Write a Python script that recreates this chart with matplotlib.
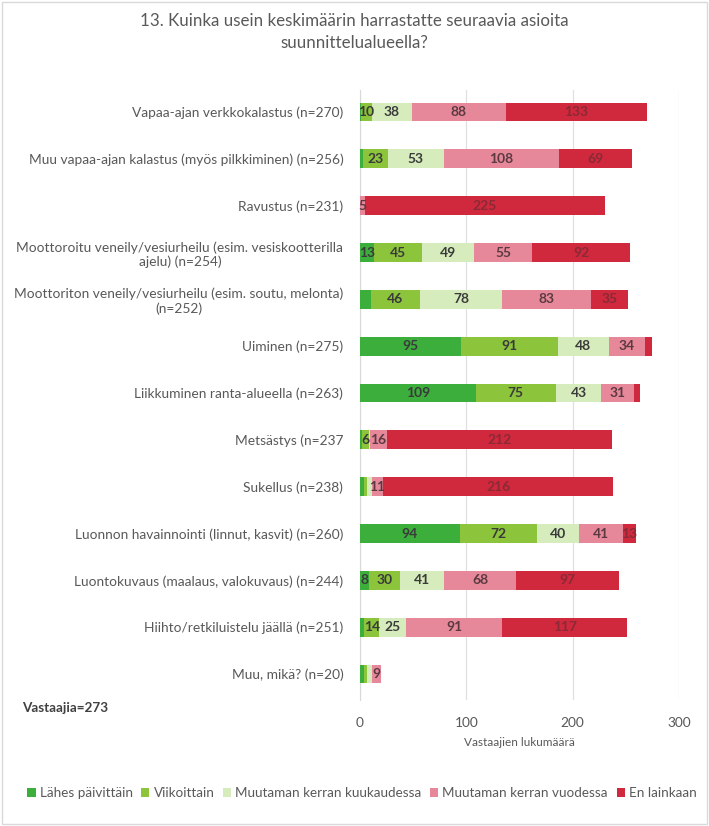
import matplotlib
matplotlib.use("Agg")
import matplotlib.pyplot as plt
from matplotlib.patches import Rectangle

plt.rcParams["font.family"] = ["Lato", "DejaVu Sans"]

# Kysymys 13: harrastusten useus suunnittelualueella
categories = [
    "Vapaa-ajan verkkokalastus (n=270)",
    "Muu vapaa-ajan kalastus (myös pilkkiminen) (n=256)",
    "Ravustus (n=231)",
    "Moottoroitu veneily/vesiurheilu (esim. vesiskootterilla\najelu) (n=254)",
    "Moottoriton veneily/vesiurheilu (esim. soutu, melonta)\n(n=252)",
    "Uiminen (n=275)",
    "Liikkuminen ranta-alueella (n=263)",
    "Metsästys (n=237",
    "Sukellus (n=238)",
    "Luonnon havainnointi (linnut, kasvit) (n=260)",
    "Luontokuvaus (maalaus, valokuvaus) (n=244)",
    "Hiihto/retkiluistelu jäällä (n=251)",
    "Muu, mikä? (n=20)",
]
series_names = ["Lähes päivittäin", "Viikoittain", "Muutaman kerran kuukaudessa",
                "Muutaman kerran vuodessa", "En lainkaan"]

lahes_paivittain = [1, 3, 0, 13, 10, 95, 109, 2, 4, 94, 8, 4, 4]
viikoittain = [10, 23, 0, 45, 46, 91, 75, 6, 3, 72, 30, 14, 3]
kuukaudessa = [38, 53, 0, 49, 78, 48, 43, 1, 4, 40, 41, 25, 4]
vuodessa = [88, 108, 5, 55, 83, 34, 31, 16, 11, 41, 68, 91, 9]
en_lainkaan = [133, 69, 225, 92, 35, 7, 5, 212, 216, 13, 97, 117, 0]

series = [lahes_paivittain, viikoittain, kuukaudessa, vuodessa, en_lainkaan]
colors = ["#3cae3c", "#8cc43c", "#d6ecbc", "#e6889a", "#d0283c"]
label_colors = ["#3a3a3a", "#3a3a3a", "#3a3a3a", "#5a3a40", "#8a2a36"]
# arvot, joita ei ole merkitty kuvaan
hidden = {(4, 0), (5, 4), (6, 4)}

GREY = "#595959"

fig = plt.figure(figsize=(7.09, 8.26), dpi=100)
fig.patches.append(Rectangle((0.003, 0.003), 0.994, 0.994, transform=fig.transFigure,
                             fill=False, edgecolor="#d9d9d9", lw=1))

ax = fig.add_axes([360 / 709, 1 - 700 / 826, 319 / 709, 610 / 826])

ypos = list(range(len(categories)))
left = [0] * len(categories)
for si, (vals, col) in enumerate(zip(series, colors)):
    ax.barh(ypos, vals, left=left, height=0.4, color=col, label=series_names[si],
            zorder=3)
    for ri, v in enumerate(vals):
        if v >= 5 and (ri, si) not in hidden:
            ax.text(left[ri] + v / 2, ri, str(v), ha="center", va="center",
                    fontsize=10, fontweight="bold", color=label_colors[si], zorder=4)
    left = [a + b for a, b in zip(left, vals)]

ax.set_xlim(0, 300)
ax.set_ylim(12.555, -0.47)
ax.set_xticks([0, 100, 200, 300])
ax.set_yticks(ypos)
ax.set_yticklabels(categories, multialignment="center")
ax.tick_params(axis="y", length=0, pad=12, labelsize=9.9, labelcolor=GREY)
ax.tick_params(axis="x", length=0, pad=12, labelsize=9.9, labelcolor=GREY)
ax.grid(axis="x", color="#e0e0e0", lw=0.9, zorder=0)
for s in ["top", "right", "bottom"]:
    ax.spines[s].set_visible(False)
ax.spines["left"].set_color("#d9d9d9")
ax.set_xlabel("Vastaajien lukumäärä", fontsize=8.5, color=GREY, labelpad=6)

fig.text(0.5, 1 - 32 / 826, "13. Kuinka usein keskimäärin harrastatte seuraavia asioita\nsuunnittelualueella?",
         ha="center", va="center", fontsize=12.2, color=GREY, linespacing=1.4)
fig.text(22 / 709, 1 - 708 / 826, "Vastaajia=273", ha="left", va="center",
         fontsize=9.7, fontweight="bold", color="#404040")

fig.legend(loc="center", bbox_to_anchor=(362 / 709, 1 - 793 / 826), ncol=5,
           frameon=False, fontsize=9.7, handlelength=0.6, handleheight=0.6,
           handletextpad=0.3, columnspacing=0.65, labelcolor=GREY)

fig.savefig("out.png", dpi=100)
